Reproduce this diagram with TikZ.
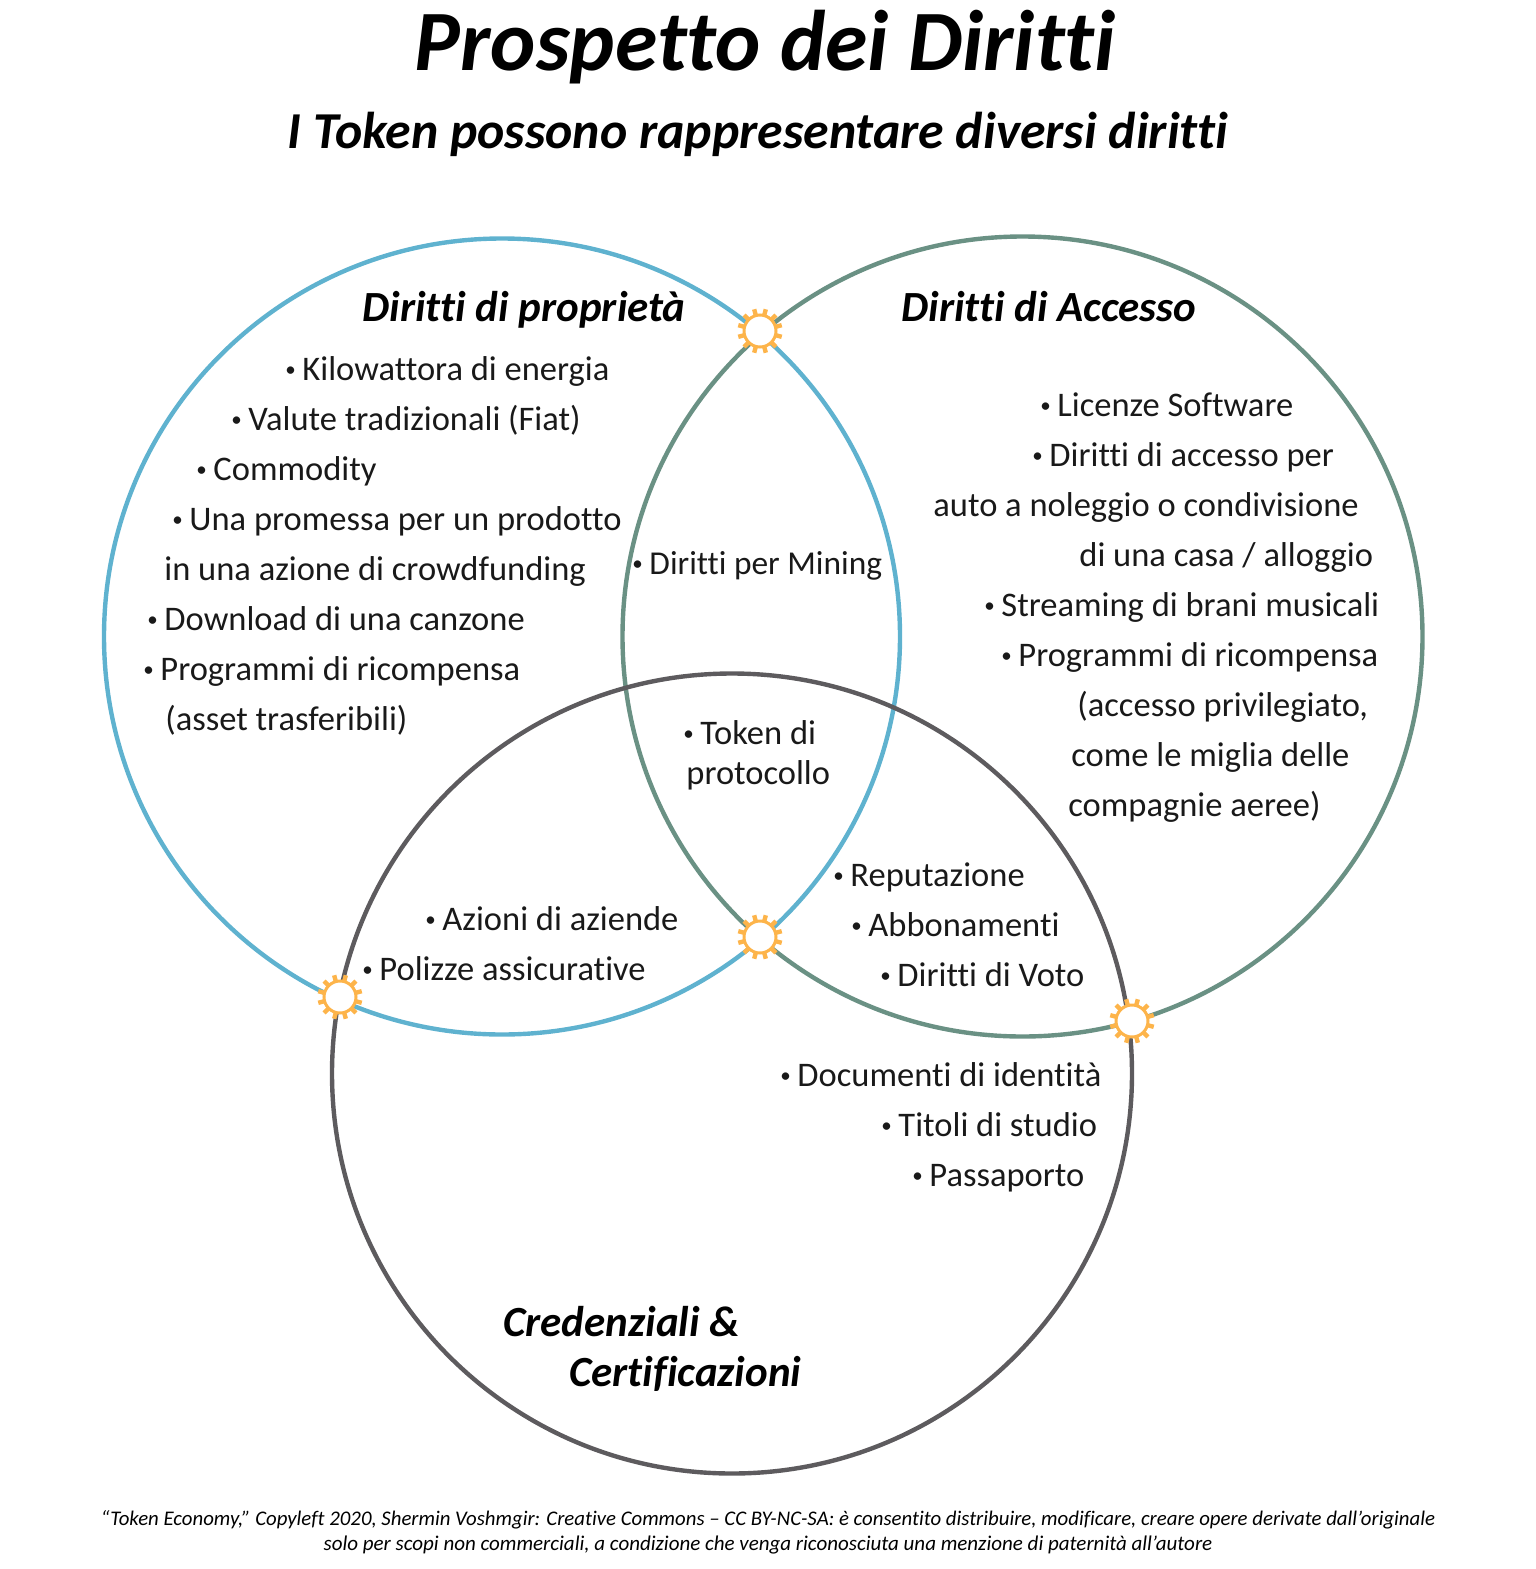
\documentclass[tikz,border=0pt]{standalone}
\usepackage{fontspec}
\setmainfont[Ligatures=NoCommon]{Carlito}
\definecolor{ringblue}{HTML}{5FB2CF}
\definecolor{ringgreen}{HTML}{6A9184}
\definecolor{ringgrey}{HTML}{5D5B5E}
\definecolor{sunorange}{HTML}{FDB44A}
\newcommand{\bul}{{\fontsize{10.5}{12}\selectfont\raisebox{1.7pt}{•}\kern3.3pt}}
\tikzset{
  ring/.style={line width=2.2pt},
  item/.style={anchor=base west, inner sep=0pt, font=\fontsize{17.25}{20}\selectfont, text=black!90},
  head/.style={anchor=base west, inner sep=0pt, font=\fontsize{21.5}{24}\selectfont\bfseries\itshape},
  foot/.style={anchor=base, inner sep=0pt, font=\fontsize{10.4}{12}\selectfont\itshape},
  sun/.pic={
    \foreach \a in {15,45,...,345}
      \draw[sunorange, line width=2.2pt] (\a:14) -- (\a:22.5);
    \draw[sunorange, fill=white, line width=1.5pt] (0,0) circle [radius=16];
  }
}
\begin{document}
\begin{tikzpicture}[x=0.5pt,y=-0.5pt]
  \useasboundingbox (0,0) rectangle (1536,1569);

  \draw[ring, ringblue] (502,636.5) circle [radius=398];
  \draw[ring, ringgreen] (1022.5,636.5) circle [radius=400];
  \draw[ring, ringgrey] (732,1073.5) circle [radius=400];

  \pic at (760,331) {sun};
  \pic at (760,937) {sun};
  \pic at (340,997) {sun};
  \pic at (1132,1021) {sun};

  \node[anchor=base, inner sep=0pt, font=\fontsize{43}{50}\selectfont\bfseries\itshape] (title) at (765,70) {Prospetto dei Diritti};
  \node[anchor=base, inner sep=0pt, font=\fontsize{25.9}{30}\selectfont\bfseries\itshape] (subtitle) at (758,148) {I Token possono rappresentare diversi diritti};

  \node[head] (headprop) at (362,321) {Diritti di proprietà};
  \node[head] (headacc) at (901,321) {Diritti di Accesso};
  \node[head] (headcred) at (503,1336) {Credenziali \&};
  \node[head] (headcert) at (569,1386) {Certificazioni};

  \node[item] (kwh) at (285,380) {\bul Kilowattora di energia};
  \node[item] (fiat) at (231,430) {\bul Valute tradizionali (Fiat)};
  \node[item] (commodity) at (196,480) {\bul Commodity};
  \node[item] (promessa) at (172,530) {\bul Una promessa per un prodotto};
  \node[item] (crowd) at (164,580) {in una azione di crowdfunding};
  \node[item] (canzone) at (147,630) {\bul Download di una canzone};
  \node[item] (ricomp) at (143,680) {\bul Programmi di ricompensa};
  \node[item] (asset) at (165,730) {(asset trasferibili)};

  \node[item, font=\fontsize{16.7}{20}\selectfont] (mining) at (632,574) {\bul Diritti per Mining};
  \node[item] (tokendi) at (683,744) {\bul Token di};
  \node[item] (protocollo) at (686,784) {protocollo};

  \node[item] (azioni) at (425,930) {\bul Azioni di aziende};
  \node[item] (polizze) at (362,980) {\bul Polizze assicurative};

  \node[item] (licenze) at (1040,416) {\bul Licenze Software};
  \node[item] (accesso) at (1032,466) {\bul Diritti di accesso per};
  \node[item] (auto) at (933,516) {auto a noleggio o condivisione};
  \node[item] (casa) at (1079,566) {di una casa / alloggio};
  \node[item] (streaming) at (984,616) {\bul Streaming di brani musicali};
  \node[item] (ricompb) at (1001,666) {\bul Programmi di ricompensa};
  \node[item] (priv) at (1077,716) {(accesso privilegiato,};
  \node[item] (miglia) at (1071,766) {come le miglia delle};
  \node[item] (aeree) at (1068,816) {compagnie aeree)};

  \node[item] (reput) at (833,886) {\bul Reputazione};
  \node[item] (abbon) at (851,936) {\bul Abbonamenti};
  \node[item] (voto) at (880,986) {\bul Diritti di Voto};

  \node[item] (docu) at (780,1086) {\bul Documenti di identità};
  \node[item] (titoli) at (881,1136) {\bul Titoli di studio};
  \node[item] (passap) at (912,1186) {\bul Passaporto};

  \node[foot] (foota) at (768,1525.5) {“Token Economy,” Copyleft 2020, Shermin Voshmgir: Creative Commons – CC BY-NC-SA: è consentito distribuire, modificare, creare opere derivate dall'originale};
  \node[foot, font=\fontsize{10.5}{12}\selectfont\itshape] (footb) at (768,1550.5) {solo per scopi non commerciali, a condizione che venga riconosciuta una menzione di paternità all’autore};
\end{tikzpicture}
\end{document}
